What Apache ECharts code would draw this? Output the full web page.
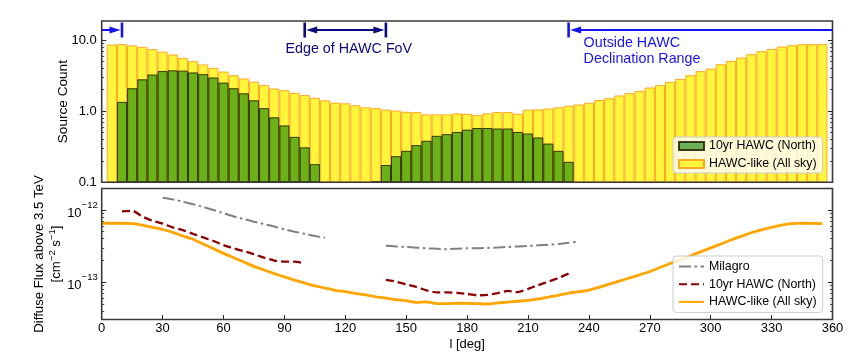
<!DOCTYPE html>
<html><head><meta charset="utf-8">
<script src="https://cdn.jsdelivr.net/npm/echarts@6/dist/echarts.min.js"></script>
<style>html,body{margin:0;padding:0;background:#fff}#c{width:850px;height:360px}</style>
</head><body><div id="c"></div>
<script>
// ---- data ----
const bins = [5,10,15,20,25,30,35,40,45,50,55,60,65,70,75,80,85,90,95,100,105,110,115,120,125,130,135,140,145,150,155,160,165,170,175,180,185,190,195,200,205,210,215,220,225,230,235,240,245,250,255,260,265,270,275,280,285,290,295,300,305,310,315,320,325,330,335,340,345,350,355];
const hawcLikeCounts = [8.65,8.75,8.4,8.0,7.43,6.85,6.25,5.6,5.04,4.53,4.06,3.6,3.2,2.88,2.6,2.32,2.08,1.97,1.81,1.68,1.54,1.42,1.32,1.29,1.21,1.13,1.10,1.05,1.02,0.98,0.97,0.9,0.9,0.9,0.93,0.92,0.88,0.93,0.97,0.97,0.92,1.05,1.06,1.09,1.13,1.19,1.24,1.31,1.43,1.52,1.66,1.79,1.93,2.15,2.32,2.58,2.84,3.2,3.65,3.97,4.57,5.09,5.67,6.32,6.96,7.5,8.1,8.45,8.73,8.73,8.73];
const hawc10Counts = [null,1.35,2.1,2.8,3.27,3.66,3.75,3.71,3.5,3.31,2.97,2.52,2.1,1.78,1.42,1.1,0.82,0.63,0.435,0.31,0.18,null,null,null,null,null,0.103,0.175,0.233,0.277,0.333,0.383,0.45,0.475,0.51,0.55,0.58,0.58,0.57,0.57,0.51,0.485,0.427,0.35,0.277,0.194,null,null,null,null,null,null,null,null,null,null,null,null,null,null,null,null,null,null,null,null,null,null,null,null,null];

const fluxL = [0,5,10,15,20,25,30,35,40,45,50,55,60,65,70,75,80,85,90,95,100,105,110,115,120,125,130,135,140,145,150,155,160,165,170,175,180,185,190,195,200,205,210,215,220,225,230,235,240,245,250,255,260,265,270,275,280,285,290,295,300,305,310,315,320,325,330,335,340,345,350,355];
const hawcLikeFlux = [6.55e-13,6.55e-13,6.55e-13,6.46e-13,6.17e-13,5.75e-13,5.37e-13,4.90e-13,4.37e-13,3.94e-13,3.39e-13,2.92e-13,2.51e-13,2.19e-13,1.91e-13,1.66e-13,1.48e-13,1.32e-13,1.19e-13,1.07e-13,9.77e-14,8.91e-14,8.32e-14,7.76e-14,7.41e-14,7.00e-14,6.68e-14,6.31e-14,6.03e-14,5.75e-14,5.56e-14,5.25e-14,5.37e-14,5.07e-14,5.07e-14,5.13e-14,5.13e-14,5.07e-14,5.01e-14,5.19e-14,5.31e-14,5.47e-14,5.62e-14,5.89e-14,6.24e-14,6.61e-14,7.08e-14,7.41e-14,7.82e-14,8.51e-14,9.44e-14,1.04e-13,1.15e-13,1.27e-13,1.41e-13,1.60e-13,1.82e-13,2.04e-13,2.32e-13,2.63e-13,2.99e-13,3.39e-13,3.85e-13,4.32e-13,4.84e-13,5.31e-13,5.75e-13,6.17e-13,6.46e-13,6.56e-13,6.53e-13,6.46e-13];

const hawc10L1 = [10,15,20,25,30,35,40,45,50,55,60,65,70,75,80,85,90,95,100];
const hawc10F1 = [9.55e-13,9.77e-13,8.13e-13,7.08e-13,6.46e-13,5.75e-13,5.25e-13,4.68e-13,4.17e-13,3.72e-13,3.27e-13,2.95e-13,2.69e-13,2.45e-13,2.19e-13,2.0e-13,1.93e-13,1.93e-13,1.83e-13];
const hawc10L2 = [140,145,150,155,160,165,170,175,180,185,190,195,200,205,210,215,220,225,230];
const hawc10F2 = [1.08e-13,1.02e-13,9.33e-14,8.61e-14,7.76e-14,7.24e-14,7.24e-14,7.16e-14,6.92e-14,6.61e-14,6.68e-14,7.08e-14,7.59e-14,7.33e-14,8.13e-14,9.12e-14,1.02e-13,1.15e-13,1.32e-13];

const milagroL1 = [30,35,40,45,50,55,60,65,70,75,80,85,90,95,100,105,110];
const milagroF1 = [1.48e-12,1.40e-12,1.30e-12,1.20e-12,1.10e-12,1.0e-12,9.02e-13,8.13e-13,7.50e-13,6.89e-13,6.38e-13,5.89e-13,5.41e-13,5.01e-13,4.68e-13,4.37e-13,4.12e-13];
const milagroL2 = [140,145,150,155,160,165,170,175,180,185,190,195,200,205,210,215,220,225,230,235];
const milagroF2 = [3.21e-13,3.13e-13,3.08e-13,3.01e-13,2.95e-13,2.90e-13,2.86e-13,2.92e-13,2.96e-13,2.96e-13,2.99e-13,3.03e-13,3.08e-13,3.13e-13,3.18e-13,3.24e-13,3.30e-13,3.39e-13,3.51e-13,3.65e-13];

const countMajor = [0.1,1,10];
const countMinor = [0.2,0.3,0.4,0.5,0.6,0.7,0.8,0.9,2,3,4,5,6,7,8,9];
const fluxMajor = [1e-13,1e-12];
const fluxMinor = [4e-14,5e-14,6e-14,7e-14,8e-14,9e-14,2e-13,3e-13,4e-13,5e-13,6e-13,7e-13,8e-13,9e-13];
const binWidthDeg = 5;

const legendNames = {
  hawc10Bar: '10yr HAWC (North)', hawcLikeBar: 'HAWC-like (All sky)',
  milagro: 'Milagro', hawc10Line: '10yr HAWC (North)', hawcLikeLine: 'HAWC-like (All sky)'
};
// annotation positions (deg)
const leftMark = 10, fovEdges = [100, 140], declEdge = 230;

// ---- chart ----
const FONT = 'Liberation Sans';
const chart = echarts.init(document.getElementById('c'), null, {renderer: 'canvas'});
const G0 = {left: 101.7, right: 17.5, top: 21, height: 161.3};
const G1 = {left: 101.7, right: 17.5, top: 188.5, height: 131};

function pairs(xs, ys) { return xs.map((x, i) => [x, ys[i] == null ? '-' : ys[i]]); }
function joinSeg(a, b) { return a.concat([['-', '-']], b); }

function yAx(grid, min, max, pos, major, minor, labelOpt, extra) {
  const base = {
    gridIndex: grid, type: 'log', logBase: 10, min: min, max: max, position: pos,
    axisLine: {show: false}, splitLine: {show: false}, minorTick: {show: false}
  };
  const majorAx = Object.assign({}, base, {
    axisTick: {show: true, inside: true, length: 4.5, lineStyle: {color: '#222', width: 1}, customValues: major},
    axisLabel: labelOpt ? Object.assign({customValues: major}, labelOpt) : {show: false}
  }, extra || {});
  const minorAx = Object.assign({}, base, {
    axisTick: {show: true, inside: true, length: 2.5, lineStyle: {color: '#222', width: 0.8}, customValues: minor},
    axisLabel: {show: false}
  });
  return [majorAx, minorAx];
}

const yAxes = [].concat(
  yAx(0, 0.1, 18.5, 'left', countMajor, countMinor,
    {show: true, margin: 5, fontSize: 13, color: '#000', fontFamily: FONT, formatter: v => Number(v).toFixed(1)},
    {name: 'Source Count', nameLocation: 'middle', nameGap: 31, nameMoveOverlap: false, startValue: 0.1,
     nameTextStyle: {fontSize: 13.6, color: '#000', fontFamily: FONT}}),
  yAx(0, 0.1, 18.5, 'right', countMajor, countMinor, null, {startValue: 0.1}),
  yAx(1, 3.06e-14, 1.98e-12, 'left', fluxMajor, fluxMinor,
    {show: true, margin: 4, color: '#000', fontFamily: FONT,
     formatter: v => '{b|10}{s|\u2212' + Math.abs(Math.round(Math.log10(v))) + '}',
     rich: {b: {fontSize: 13, fontFamily: FONT, color: '#000', lineHeight: 19, verticalAlign: 'bottom'},
            s: {fontSize: 9.5, fontFamily: FONT, color: '#000', lineHeight: 19, verticalAlign: 'top'}}},
    {name: 'Diffuse Flux above 3.5 TeV\n[cm{s|\u22122} s{s|\u22121}]', nameLocation: 'middle', nameGap: 37, nameMoveOverlap: false,
     nameTextStyle: {fontSize: 13.2, color: '#000', fontFamily: FONT, lineHeight: 17,
       rich: {s: {fontSize: 9.5, fontFamily: FONT, color: '#000', verticalAlign: 'top', lineHeight: 12}}}}),
  yAx(1, 3.06e-14, 1.98e-12, 'right', fluxMajor, fluxMinor, null)
);

function xAx(grid, labels) {
  return {
    gridIndex: grid, type: 'value', min: 0, max: 360, interval: 30, position: 'bottom',
    axisLine: {show: false}, splitLine: {show: false},
    axisTick: {show: true, inside: true, length: 4.5, lineStyle: {color: '#222', width: 1}},
    axisLabel: labels ? {show: true, margin: 2.5, fontSize: 13, color: '#000', fontFamily: FONT} : {show: false},
    name: labels ? 'l [deg]' : '', nameLocation: 'middle', nameGap: 18,
    nameTextStyle: {fontSize: 13, color: '#000', fontFamily: FONT}
  };
}

const legendBase = {
  orient: 'vertical', align: 'left', itemWidth: 25, itemGap: 6,
  itemTextGap: 10, backgroundColor: 'rgba(255,255,255,0.8)', borderColor: '#cccccc',
  borderWidth: 1, borderRadius: 3,
  textStyle: {fontSize: 12.4, color: '#000', fontFamily: FONT, lineHeight: 12},
  formatter: n => legendNames[n]
};

const option = {
  animation: false,
  backgroundColor: '#fff',
  textStyle: {fontFamily: FONT},
  grid: [G0, G1],
  xAxis: [xAx(0, false), xAx(1, true)],
  yAxis: yAxes,
  legend: [
    Object.assign({}, legendBase, {left: 673, top: 137, padding: [3, 6, 3, 5], itemHeight: 8, icon: 'rect',
      data: ['hawc10Bar', 'hawcLikeBar']}),
    Object.assign({}, legendBase, {left: 673, top: 256, padding: [4.5, 6, 4.5, 5], itemHeight: 10, itemGap: 5.7,
      itemStyle: {opacity: 0},
      data: ['milagro', 'hawc10Line', 'hawcLikeLine']})
  ],
  series: [
    {type: 'bar', id: 'yb', name: 'hawcLikeBar', xAxisIndex: 0, yAxisIndex: 0, data: pairs(bins, hawcLikeCounts),
     barWidth: 10, barGap: '-100%', z: 2,
     itemStyle: {color: '#FFF53A', borderColor: '#FFA726', borderWidth: 1}},
    {type: 'bar', id: 'gb', name: 'hawc10Bar', xAxisIndex: 0, yAxisIndex: 0, data: pairs(bins, hawc10Counts),
     barWidth: 10, barGap: '-100%', z: 3,
     itemStyle: {color: 'rgba(0,128,0,0.58)', borderColor: 'rgba(35,30,0,0.85)', borderWidth: 1}},
    {type: 'line', name: 'milagro', xAxisIndex: 1, yAxisIndex: 4,
     data: joinSeg(pairs(milagroL1, milagroF1), pairs(milagroL2, milagroF2)),
     showSymbol: false, symbol: 'none', connectNulls: false, smooth: 0.2,
     lineStyle: {color: '#808080', width: 2, type: [12, 3.5, 2.5, 3.5]}, itemStyle: {color: '#808080'}},
    {type: 'line', name: 'hawc10Line', xAxisIndex: 1, yAxisIndex: 4,
     data: joinSeg(pairs(hawc10L1, hawc10F1), pairs(hawc10L2, hawc10F2)),
     showSymbol: false, symbol: 'none', connectNulls: false, smooth: 0.2,
     lineStyle: {color: '#8B0000', width: 2.3, type: [8, 4]}, itemStyle: {color: '#8B0000'}},
    {type: 'line', name: 'hawcLikeLine', xAxisIndex: 1, yAxisIndex: 4,
     data: pairs(fluxL, hawcLikeFlux),
     showSymbol: false, symbol: 'none', smooth: 0.2,
     lineStyle: {color: '#FFA500', width: 2.8}, itemStyle: {color: '#FFA500'}}
  ]
};
chart.setOption(option);

// ---- bar width from the axis scale, frames and annotations ----
const xp = v => chart.convertToPixel({xAxisIndex: 0}, v);
const bw = xp(binWidthDeg) - xp(0);
chart.setOption({series: [{id: 'yb', barWidth: bw}, {id: 'gb', barWidth: bw}]});

const yTop0 = chart.convertToPixel({yAxisIndex: 0}, 18.5);
const yBot0 = chart.convertToPixel({yAxisIndex: 0}, 0.1);
const yTop1 = chart.convertToPixel({yAxisIndex: 4}, 1.98e-12);
const yBot1 = chart.convertToPixel({yAxisIndex: 4}, 3.06e-14);
const x0 = xp(0), x1 = xp(360);
const BLUE = '#1414F0', NAVY = '#0A0A7A';
const ay = yTop0 + 9, barH = 7.5;
function hline(xa, xb, y, c) { return {type: 'line', z: 120, shape: {x1: xa, y1: y, x2: xb, y2: y}, style: {stroke: c, lineWidth: 2}}; }
function vbar(x, y, c) { return {type: 'line', z: 120, shape: {x1: x, y1: y - barH, x2: x, y2: y + barH}, style: {stroke: c, lineWidth: 2.6}}; }
function head(tipX, y, dir, c) {
  return {type: 'polygon', z: 121, shape: {points: [[tipX, y], [tipX - dir * 11, y - 3.6], [tipX - dir * 11, y + 3.6]]}, style: {fill: c}};
}
const gl = [
  {type: 'rect', z: 110, shape: {x: x0, y: yTop0, width: x1 - x0, height: yBot0 - yTop0}, style: {fill: 'none', stroke: '#3a3a3a', lineWidth: 1.6}},
  {type: 'rect', z: 110, shape: {x: x0, y: yTop1, width: x1 - x0, height: yBot1 - yTop1}, style: {fill: 'none', stroke: '#3a3a3a', lineWidth: 1.6}},
  hline(x0, xp(leftMark) - 6, ay, BLUE), head(xp(leftMark) - 1.5, ay, 1, BLUE), vbar(xp(leftMark), ay, BLUE),
  vbar(xp(fovEdges[0]), ay, NAVY), vbar(xp(fovEdges[1]), ay, NAVY),
  hline(xp(fovEdges[0]) + 6, xp(fovEdges[1]) - 6, ay, NAVY),
  head(xp(fovEdges[0]) + 1.5, ay, -1, NAVY), head(xp(fovEdges[1]) - 1.5, ay, 1, NAVY),
  {type: 'text', z: 120, style: {text: 'Edge of HAWC FoV', x: (xp(fovEdges[0]) + xp(fovEdges[1])) / 2 + 3.5, y: ay + 19,
    align: 'center', verticalAlign: 'middle', fontSize: 14.3, fontFamily: FONT, fill: NAVY}},
  vbar(xp(declEdge), ay, BLUE), hline(xp(declEdge) + 6, x1, ay, BLUE), head(xp(declEdge) + 1.5, ay, -1, BLUE),
  {type: 'text', z: 120, style: {text: 'Outside HAWC\nDeclination Range', x: xp(declEdge) + 15, y: ay + 5.5,
    align: 'left', verticalAlign: 'top', fontSize: 14.3, lineHeight: 16, fontFamily: FONT, fill: BLUE}}
];
chart.setOption({graphic: gl});
</script></body></html>
